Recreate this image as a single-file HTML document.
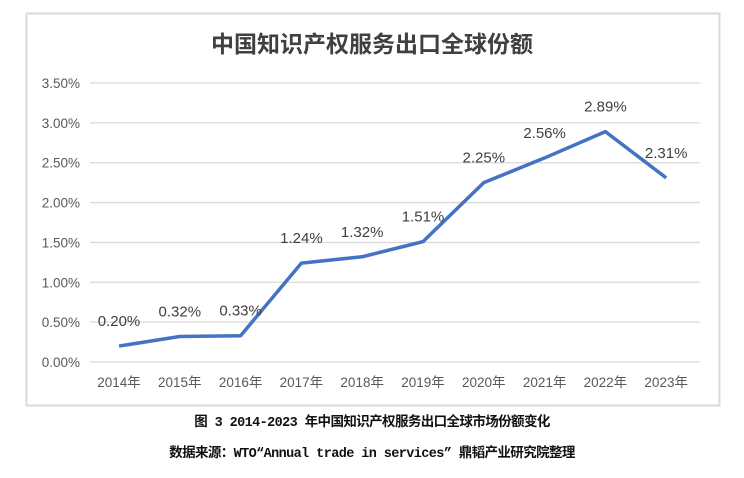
<!DOCTYPE html>
<html><head><meta charset="utf-8"><style>
body{margin:0;background:#fff;width:744px;height:478px;overflow:hidden;font-family:"Liberation Sans","Noto Sans CJK SC",sans-serif}
.cap{position:absolute;left:0;width:744px;text-align:center;font-weight:bold;color:#111;font-size:13.5px;letter-spacing:-0.6px;font-family:"Liberation Mono","Noto Sans CJK SC",monospace}
</style></head><body>
<svg width="744" height="478" style="position:absolute;left:0;top:0">
<rect x="26.5" y="13.5" width="693" height="392" fill="#fff" stroke="#d9d9d9" stroke-width="2"/>
<text x="372" y="52" text-anchor="middle" font-size="23" font-weight="bold" fill="#404040" font-family="Liberation Sans, Noto Sans CJK SC, sans-serif">中国知识产权服务出口全球份额</text>
<g id="grid"></g><g id="xl"></g><g id="line"></g>
</svg>
<div class="cap" style="top:410px">图 3 2014-2023 年中国知识产权服务出口全球市场份额变化</div>
<div class="cap" style="top:441px">数据来源：WTO“Annual trade in services” 鼎韬产业研究院整理</div>
<script>
const categories=["2014年","2015年","2016年","2017年","2018年","2019年","2020年","2021年","2022年","2023年"];
const values=[0.20,0.32,0.33,1.24,1.32,1.51,2.25,2.56,2.89,2.31];
const yTicks=[0,0.5,1,1.5,2,2.5,3,3.5];
const NS="http://www.w3.org/2000/svg";
const y=v=>362-v*(362-83)/3.5;
const x=i=>119+i*60.8;
function mk(t,a,p,txt){const e=document.createElementNS(NS,t);for(const k in a)e.setAttribute(k,a[k]);if(txt!==undefined)e.textContent=txt;p.appendChild(e);return e;}
const g=document.getElementById('grid'),xl=document.getElementById('xl'),ln=document.getElementById('line');
yTicks.forEach(v=>{
 const l=mk('line',{x1:90,x2:700,y1:y(v),y2:y(v),stroke:'#d9d9d9','stroke-width':1.3},g);
 
 
 const t=mk('text',{x:80,y:y(v)+5,'text-anchor':'end','font-size':13.5,fill:'#595959'},g,v.toFixed(2)+'%');
 
 
});
categories.forEach((c,i)=>{
 const t=mk('text',{x:x(i),y:387,'text-anchor':'middle','font-size':13.5,fill:'#595959'},xl,c);
 
 
});
const p=mk('polyline',{points:values.map((v,i)=>x(i)+','+y(v)).join(' '),fill:'none',stroke:'#4472c4','stroke-width':3.5,'stroke-linejoin':'round'},ln);


values.forEach((v,i)=>{
 const t=mk('text',{x:x(i),y:y(v)-20,'text-anchor':'middle','font-size':15,fill:'#404040'},ln,v.toFixed(2)+'%');
 
 
});
</script>
</body></html>
